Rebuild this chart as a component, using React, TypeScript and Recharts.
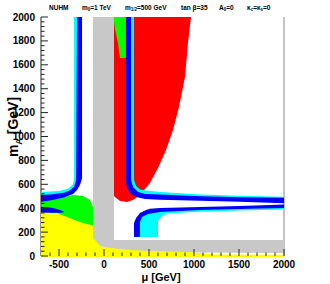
import React from 'react';
import { ScatterChart, Scatter, XAxis, YAxis, ReferenceLine } from 'recharts';

type P = [number, number];

// Region outlines in data units (mu [GeV], mA [GeV])
const greenLeft: P[] = [[-700,462],[-600,470],[-489,485],[-344,510],[-233,502],[-156,469],[-122,410],[-122,230],[-300,230],[-500,330],[-700,340]];
const yellowRegion: P[] = [[-700,368],[-522,360],[-344,305],[-233,276],[-122,255],[-95,250],[-60,120],[-30,80],[67,72],[289,56],[622,45],[956,33],[1233,12],[2000,10],[2000,0],[-700,0]];
const redRegion: P[] = [[100,2000],[967,2000],[933,1782],[900,1498],[833,1247],[767,1054],[689,887],[600,736],[511,611],[400,510],[322,469],[256,452],[178,460],[122,494],[100,510]];
const greenTop: P[] = [[111,2000],[244,2000],[244,1657],[178,1657],[155,1782],[122,1900],[111,1960]];
const grayRegion: P[] = [[-122,2000],[111,2000],[111,134],[2000,134],[2000,25],[1067,29],[511,42],[289,50],[67,67],[-44,84],[-122,151]];
const cyanLeft: P[] = [[-333,2000],[-333,650],[-345,600],[-400,562],[-500,543],[-700,536],[-700,505],[-600,512],[-444,527],[-378,547],[-333,577],[-305,636],[-295,2000]];
const blueLeft: P[] = [[-244,2000],[-244,650],[-267,594],[-300,552],[-344,519],[-444,490],[-600,465],[-700,455],[-700,510],[-600,515],[-444,530],[-378,550],[-333,580],[-310,636],[-300,2000]];
const blueLowLeft: P[] = [[-700,412],[-600,405],[-522,393],[-456,377],[-440,368],[-480,362],[-600,362],[-700,365]];
const cyanUpper: P[] = [[333,2000],[333,636],[356,586],[400,556],[489,545],[622,535],[1067,515],[1511,505],[2000,496],[2000,480],[1511,485],[1067,490],[622,505],[456,515],[378,530],[322,570],[295,636],[295,2000]];
const blueUpper: P[] = [[244,2000],[244,619],[256,569],[289,527],[356,494],[456,477],[622,470],[1067,462],[1511,455],[2000,442],[2000,487],[1511,492],[1067,500],[622,515],[456,519],[378,536],[322,577],[300,636],[300,2000]];
const cyanJ: P[] = [[395,159],[395,290],[415,330],[480,355],[622,372],[1067,388],[1511,396],[2000,404],[2000,390],[1511,380],[1067,370],[700,355],[640,330],[600,290],[600,159]];
const blueJ: P[] = [[333,159],[333,276],[356,318],[400,360],[467,385],[511,396],[622,402],[1067,410],[1511,418],[2000,430],[2000,402],[1511,393],[1067,385],[622,368],[489,351],[422,326],[400,285],[400,159]];

const layers: { name: string; color: string; pts: P[] }[] = [
  { name: 'greenLeft', color: '#00ff00', pts: greenLeft },
  { name: 'yellow', color: '#ffff00', pts: yellowRegion },
  { name: 'red', color: '#ff0000', pts: redRegion },
  { name: 'gray', color: '#c8c8c8', pts: grayRegion },
  { name: 'greenTop', color: '#00ff00', pts: greenTop },
  { name: 'cyanLeft', color: '#00ffff', pts: cyanLeft },
  { name: 'cyanUpper', color: '#00ffff', pts: cyanUpper },
  { name: 'cyanJ', color: '#00ffff', pts: cyanJ },
  { name: 'blueLeft', color: '#0000ff', pts: blueLeft },
  { name: 'blueLowLeft', color: '#0000ff', pts: blueLowLeft },
  { name: 'blueUpper', color: '#0000ff', pts: blueUpper },
  { name: 'blueJ', color: '#0000ff', pts: blueJ },
];

const majorX = [-500, 0, 500, 1000, 1500, 2000];
const majorY = [0, 200, 400, 600, 800, 1000, 1200, 1400, 1600, 1800, 2000];
const xTicks: number[] = [];
for (let v = -600; v <= 2000; v += 100) xTicks.push(v);
const yTicks: number[] = [];
for (let i = 0; i < majorY.length; i++) {
  yTicks.push(majorY[i]);
  if (i < majorY.length - 1) for (let k = 1; k < 5; k++) yTicks.push(majorY[i] + k * 40);
}

const FONT = '"Liberation Sans", Arial, Helvetica, sans-serif';

const toData = (pts: P[]) => pts.map(([x, y]) => ({ x, y }));

const polyLine = (color: string) => (props: any) => {
  const pts = (props.points || []) as { x: number; y: number }[];
  return <polygon points={pts.map((p) => `${p.x},${p.y}`).join(' ')} fill={color} stroke="none" />;
};

const emptyShape = () => <g />;

const YTick = (props: any) => {
  const { x, y, payload } = props;
  const v = payload.value;
  const major = majorY.includes(v);
  return (
    <g>
      <line x1={x} x2={x + (major ? 7 : 3.5)} y1={y} y2={y} stroke="#222" strokeWidth={1} />
      {major && (
        <text x={x - 6} y={y} dy="0.35em" textAnchor="end" fontFamily={FONT} fontWeight="bold" fontSize={10} fill="#000">
          {v}
        </text>
      )}
    </g>
  );
};

const XTick = (props: any) => {
  const { x, y, payload } = props;
  const v = payload.value;
  const major = majorX.includes(v);
  return (
    <g>
      <line x1={x} x2={x} y1={y} y2={y - (major ? 7 : 3.5)} stroke="#222" strokeWidth={1} />
      {major && (
        <text x={x} y={y + 11.5} textAnchor="middle" fontFamily={FONT} fontWeight="bold" fontSize={10} fill="#000">
          {v}
        </text>
      )}
    </g>
  );
};

export default function App() {
  const t = { fontFamily: FONT, fontWeight: 'bold' as const, fontSize: 6.5, fill: '#000' };
  const sub = { fontSize: 4.5 };
  return (
    <div style={{ position: 'absolute', left: 0, top: 0, width: 330, height: 284, background: '#fff' }}>
      <ScatterChart width={330} height={284} margin={{ top: 17, right: 46, bottom: 0, left: 0 }}>
        <ReferenceLine x={2000} stroke="#888" strokeWidth={1} />
        {layers.map((l) => (
          <Scatter
            key={l.name}
            name={l.name}
            data={toData(l.pts)}
            fill={l.color}
            line={polyLine(l.color)}
            shape={emptyShape}
            isAnimationActive={false}
          />
        ))}
        <XAxis
          type="number"
          dataKey="x"
          domain={[-700, 2000]}
          ticks={xTicks}
          interval={0}
          tickSize={0}
          tickMargin={0}
          height={28}
          tick={<XTick />}
          axisLine={{ stroke: '#ffff00', strokeWidth: 2 }}
          allowDataOverflow
        />
        <YAxis
          type="number"
          dataKey="y"
          domain={[0, 2000]}
          ticks={yTicks}
          interval={0}
          tickSize={0}
          tickMargin={0}
          width={41}
          tick={<YTick />}
          axisLine={{ stroke: '#222' }}
          allowDataOverflow
        />
      </ScatterChart>
      <svg width={330} height={284} style={{ position: 'absolute', left: 0, top: 0, pointerEvents: 'none' }}>
        <text x={49} y={9.5} {...t}>NUHM</text>
        <text x={82} y={9.5} {...t}>m<tspan dy={1.8} {...sub}>0</tspan><tspan dy={-1.8}>=1 TeV</tspan></text>
        <text x={125} y={9.5} {...t}>m<tspan dy={1.8} {...sub}>1/2</tspan><tspan dy={-1.8}>=500 GeV</tspan></text>
        <text x={181} y={9.5} {...t}>tan β=35</text>
        <text x={219} y={9.5} {...t}>A<tspan dy={1.8} {...sub}>0</tspan><tspan dy={-1.8}>=0</tspan></text>
        <text x={247} y={9.5} {...t}>κ<tspan dy={1.8} {...sub}>c</tspan><tspan dy={-1.8}>=κ</tspan><tspan dy={1.8} {...sub}>s</tspan><tspan dy={-1.8}>=0</tspan></text>
        <text x={161} y={281} textAnchor="middle" fontFamily={FONT} fontWeight="bold" fontSize={11} fill="#000">μ [GeV]</text>
        <text transform="rotate(-90)" x={-127} y={18} textAnchor="middle" fontFamily={FONT} fontWeight="bold" fontSize={14} fill="#000">
          m<tspan dy={3.5} fontSize={9}>A</tspan><tspan dy={-3.5}> [GeV]</tspan>
        </text>
      </svg>
    </div>
  );
}
